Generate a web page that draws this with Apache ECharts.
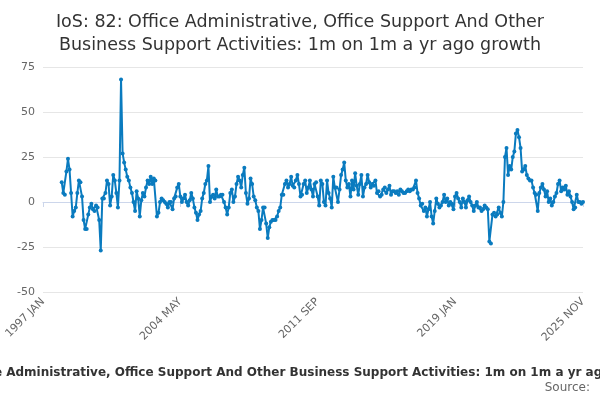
<!DOCTYPE html>
<html>
<head>
<meta charset="utf-8">
<script src="https://cdn.jsdelivr.net/npm/echarts@6/dist/echarts.min.js"></script>
<style>html,body{margin:0;padding:0;background:#fff}#main{width:600px;height:400px}</style>
</head>
<body>
<div id="main"></div>
<script>
var months = ['JAN','FEB','MAR','APR','MAY','JUN','JUL','AUG','SEP','OCT','NOV','DEC'];
var y1997 = [null,null,null,null,null,null,null,null,null,null,null,null];
var y1998 = [11,5,4,17,24,18,5,-8,-5,-3,5,12];
var y1999 = [11,3,-10,-15,-15,-7,-3,-1,-4,-5,-2,-3];
var y2000 = [-10,-27,2,2,5,12,10,-2,3,15,12,5];
var y2001 = [-3,12,68,27,22,18,14,12,8,5,0,-5];
var y2002 = [6,2,-8,1,5,3,8,12,10,14,10,13];
var y2003 = [12,-8,-6,0,2,1,0,-1,-3,0,0,-4];
var y2004 = [2,3,8,10,3,0,2,4,0,-2,1,5];
var y2005 = [2,-3,-6,-10,-7,-5,2,5,10,12,20,0];
var y2006 = [3,4,2,7,3,3,4,4,0,-3,-7,-3];
var y2007 = [5,7,0,3,10,14,12,8,15,19,5,-1];
var y2008 = [2,13,10,3,1,-3,-5,-15,-10,-3,-3,-12];
var y2009 = [-20,-14,-11,-10,-10,-10,-8,-5,-3,4,4,10];
var y2010 = [12,8,10,14,9,8,12,15,10,3,4,10];
var y2011 = [12,5,8,12,7,3,10,11,3,-2,12,10];
var y2012 = [0,-2,12,5,2,-3,14,8,8,0,7,15];
var y2013 = [18,22,12,8,10,3,12,7,16,9,4,10];
var y2014 = [15,3,8,10,15,11,8,10,9,12,5,6];
var y2015 = [3,4,7,8,5,7,9,4,6,6,5,6];
var y2016 = [4,7,6,5,5,6,7,6,7,7,8,12];
var y2017 = [5,2,-2,-1,-5,-3,-8,-4,0,-8,-12,-5];
var y2018 = [2,-1,-3,-2,0,4,0,2,-2,0,-1,-4];
var y2019 = [3,5,2,0,-3,2,0,-3,1,3,0,-2];
var y2020 = [-5,-2,0,-3,-3,-5,-4,-2,-3,-4,-22,-23];
var y2021 = [-7,-6,-8,-7,-3,-6,-8,0,25,30,15,20];
var y2022 = [18,25,28,38,40,36,30,17,18,20,15,13];
var y2023 = [12,12,8,5,4,-5,5,8,10,7,3,6];
var y2024 = [0,2,-2,0,3,5,10,12,6,8,7,9];
var y2025 = [4,6,3,0,-4,-3,4,0,0,-1,0];

var years = [y1997,y1998,y1999,y2000,y2001,y2002,y2003,y2004,y2005,y2006,y2007,y2008,y2009,y2010,
  y2011,y2012,y2013,y2014,y2015,y2016,y2017,y2018,y2019,y2020,y2021,y2022,y2023,y2024,y2025];
var categories = [], values = [];
years.forEach(function (arr, i) {
  arr.forEach(function (v, j) {
    categories.push((1997 + i) + ' ' + months[j]);
    values.push(v);
  });
});
var last = categories.length - 1;
function showTick(i) { return i % 88 === 0 || i === last; }

var chart = echarts.init(document.getElementById('main'));
chart.setOption({
  animation: false,
  title: {
    text: 'IoS: 82: Office Administrative, Office Support And Other\nBusiness Support Activities: 1m on 1m a yr ago growth',
    left: 'center', top: 6,
    textStyle: {fontFamily: 'DejaVu Sans', fontSize: 17.5, fontWeight: 'normal', color: '#333', lineHeight: 23}
  },
  grid: {left: 43, right: 17, top: 67, bottom: 108, containLabel: false, outerBoundsMode: 'none'},
  xAxis: {
    type: 'category', data: categories, boundaryGap: false,
    axisLine: {lineStyle: {color: '#ccd6eb'}},
    axisTick: {show: true, interval: showTick, lineStyle: {color: '#ccd6eb'}},
    axisLabel: {interval: showTick, rotate: 45, color: '#666', fontSize: 11, fontFamily: 'DejaVu Sans'},
    name: 'Office Administrative, Office Support And Other Business Support Activities: 1m on 1m a yr ago growth',
    nameLocation: 'middle', nameGap: 75,
    nameTextStyle: {fontWeight: 'bold', fontSize: 12, color: '#333', fontFamily: 'DejaVu Sans'}
  },
  yAxis: {
    type: 'value', min: -50, max: 75, interval: 25,
    axisLabel: {color: '#666', fontSize: 11, fontFamily: 'DejaVu Sans'},
    splitLine: {lineStyle: {color: '#e6e6e6'}}
  },
  graphic: [{type: 'text', right: 10, top: 382,
    style: {text: 'Source:', fill: '#666', fontSize: 12, fontFamily: 'DejaVu Sans'}}],
  series: [{
    type: 'line', data: values, symbol: 'circle', symbolSize: 4, showAllSymbol: true,
    lineStyle: {color: '#0a7bbf', width: 2}, itemStyle: {color: '#0a7bbf'}
  }]
});
</script>
</body>
</html>
